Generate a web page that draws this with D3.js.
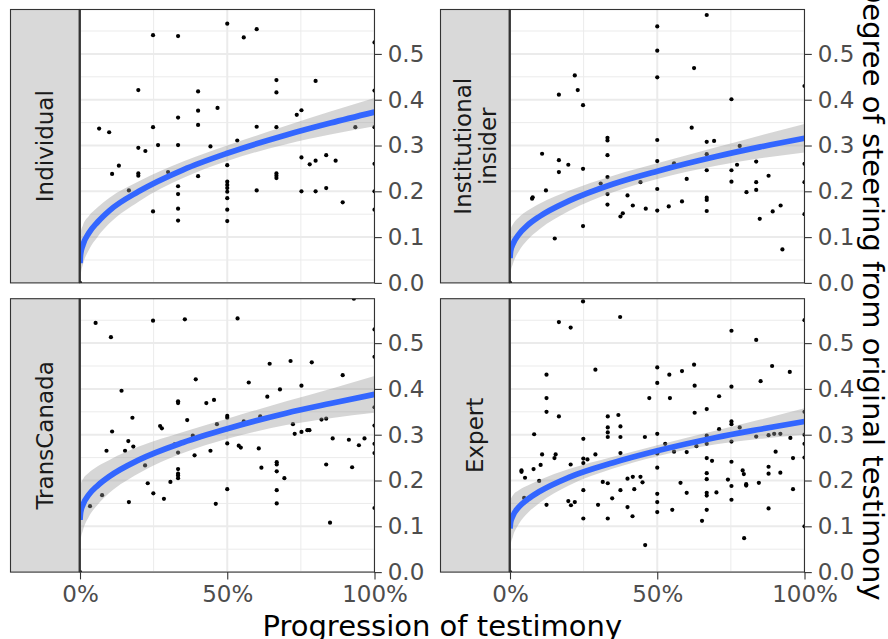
<!DOCTYPE html>
<html><head><meta charset="utf-8">
<script src="https://cdn.jsdelivr.net/npm/d3@7"></script>
<style>body{margin:0;background:#fff}svg{display:block}</style>
</head><body><svg id="chart" width="888" height="639"></svg>
<script>
// ---------- data ----------
const facetLabels = [["Individual"], ["Institutional", "insider"], ["TransCanada"], ["Expert"]];
const xTicks = [0, 0.5, 1];
const xTickLabels = ["0%", "50%", "100%"];
const yTicks = [0, 0.1, 0.2, 0.3, 0.4, 0.5];
const yTickLabels = ["0.0", "0.1", "0.2", "0.3", "0.4", "0.5"];
const xTitle = "Progression of testimony";
const yTitle = "Degree of steering from original testimony";

const individualPoints = [[0.248,0.541],[0.333,0.539],[0.5,0.566],[0.556,0.536],[0.6,0.554],[0.198,0.421],[0.401,0.418],[0.667,0.443],[0.667,0.416],[0.8,0.441],[0.467,0.382],[0.401,0.376],[0.333,0.361],[0.401,0.345],[0.736,0.367],[0.752,0.377],[0.065,0.337],[0.099,0.329],[0.248,0.340],[0.6,0.341],[0.667,0.340],[0.935,0.340],[0.198,0.295],[0.222,0.288],[0.265,0.301],[0.333,0.301],[0.443,0.298],[0.534,0.311],[0.132,0.256],[0.109,0.238],[0.198,0.239],[0.198,0.234],[0.299,0.242],[0.401,0.233],[0.5,0.257],[0.752,0.274],[0.78,0.259],[0.8,0.267],[0.836,0.279],[0.868,0.267],[0.667,0.239],[0.667,0.234],[0.667,0.229],[0.166,0.202],[0.166,0.187],[0.333,0.211],[0.333,0.194],[0.333,0.162],[0.333,0.136],[0.248,0.156],[0.5,0.221],[0.5,0.214],[0.5,0.207],[0.5,0.199],[0.5,0.185],[0.5,0.160],[0.5,0.135],[0.6,0.202],[0.752,0.200],[0.8,0.200],[0.836,0.207],[0.892,0.176],[1,0.525],[1,0.42],[1,0.34],[1,0.26],[1,0.20],[1,0.16],[0,0]];

const insiderPoints = [[0.668,0.585],[0.5,0.560],[0.5,0.507],[0.5,0.449],[0.625,0.469],[0.22,0.453],[0.23,0.421],[0.166,0.411],[0.248,0.388],[0.752,0.401],[0.617,0.339],[0.331,0.317],[0.331,0.311],[0.5,0.312],[0.668,0.308],[0.693,0.310],[0.78,0.299],[0.109,0.282],[0.331,0.279],[0.166,0.268],[0.166,0.242],[0.198,0.258],[0.248,0.249],[0.5,0.266],[0.557,0.261],[0.668,0.281],[0.668,0.246],[0.836,0.265],[0.752,0.246],[0.771,0.258],[0.878,0.234],[0.331,0.231],[0.308,0.217],[0.331,0.194],[0.443,0.220],[0.6,0.227],[0.752,0.221],[0.836,0.220],[0.836,0.203],[0.803,0.198],[0.5,0.205],[0.075,0.184],[0.077,0.187],[0.122,0.202],[0.399,0.191],[0.331,0.171],[0.417,0.169],[0.461,0.162],[0.5,0.158],[0.539,0.167],[0.584,0.178],[0.668,0.186],[0.668,0.181],[0.668,0.157],[0.383,0.152],[0.375,0.145],[0.892,0.156],[0.919,0.169],[0.848,0.140],[0.248,0.124],[0.152,0.097],[0.925,0.073],[1,0.43],[1,0.26],[1,0.22],[1,0.15],[0,0]];

const transCanadaPoints = [[0.93,0.597],[0.053,0.544],[0.248,0.549],[0.356,0.552],[0.535,0.554],[0.105,0.513],[0.644,0.455],[0.715,0.461],[0.787,0.458],[0.892,0.430],[0.393,0.421],[0.573,0.414],[0.752,0.407],[0.679,0.399],[0.141,0.396],[0.636,0.383],[0.333,0.373],[0.333,0.369],[0.429,0.369],[0.455,0.376],[0.178,0.337],[0.364,0.332],[0.5,0.341],[0.5,0.337],[0.612,0.340],[0.465,0.323],[0.556,0.329],[0.723,0.323],[0.82,0.333],[0.836,0.335],[0.109,0.307],[0.272,0.319],[0.278,0.314],[0.383,0.298],[0.729,0.302],[0.752,0.306],[0.772,0.310],[0.779,0.310],[0.858,0.292],[0.913,0.289],[0.966,0.292],[0.947,0.277],[0.164,0.286],[0.181,0.274],[0.09,0.265],[0.153,0.265],[0.321,0.279],[0.333,0.261],[0.5,0.281],[0.539,0.276],[0.546,0.272],[0.607,0.270],[0.443,0.265],[0.389,0.255],[0.221,0.233],[0.333,0.225],[0.333,0.215],[0.333,0.211],[0.333,0.205],[0.616,0.228],[0.668,0.240],[0.668,0.235],[0.668,0.220],[0.694,0.205],[0.836,0.235],[0.924,0.229],[0.307,0.197],[0.23,0.194],[0.068,0.195],[0.075,0.168],[0.249,0.172],[0.285,0.160],[0.5,0.181],[0.668,0.179],[0.166,0.153],[0.461,0.149],[0.668,0.150],[0.034,0.144],[0.849,0.108],[1,0.53],[1,0.47],[1,0.36],[1,0.32],[1,0.28],[1,0.26],[1,0.14],[0,0]];

const expertPoints = [[0.248,0.591],[0.374,0.557],[0.166,0.546],[0.206,0.534],[0.752,0.527],[0.836,0.507],[0.5,0.447],[0.625,0.453],[0.89,0.450],[0.95,0.437],[0.584,0.439],[0.541,0.431],[0.29,0.442],[0.124,0.431],[0.5,0.413],[0.627,0.407],[0.851,0.417],[0.752,0.405],[0.473,0.380],[0.543,0.380],[0.71,0.384],[0.124,0.380],[0.124,0.350],[0.166,0.340],[0.332,0.340],[0.368,0.343],[0.627,0.348],[0.668,0.356],[0.752,0.329],[0.752,0.323],[0.78,0.316],[0.71,0.312],[0.332,0.316],[0.332,0.305],[0.332,0.295],[0.375,0.318],[0.375,0.295],[0.082,0.301],[0.249,0.291],[0.458,0.295],[0.5,0.302],[0.668,0.298],[0.668,0.280],[0.836,0.296],[0.878,0.299],[0.897,0.302],[0.918,0.302],[0.952,0.293],[0.752,0.285],[0.527,0.280],[0.633,0.275],[0.902,0.263],[0.557,0.263],[0.6,0.262],[0.5,0.259],[0.375,0.260],[0.29,0.257],[0.109,0.257],[0.155,0.257],[0.151,0.249],[0.249,0.248],[0.263,0.246],[0.249,0.238],[0.206,0.235],[0.104,0.234],[0.08,0.225],[0.039,0.222],[0.039,0.219],[0.051,0.206],[0.099,0.199],[0.668,0.249],[0.686,0.243],[0.752,0.241],[0.961,0.249],[0.5,0.228],[0.668,0.216],[0.79,0.222],[0.794,0.214],[0.878,0.230],[0.878,0.215],[0.918,0.217],[0.668,0.203],[0.74,0.202],[0.315,0.197],[0.332,0.194],[0.399,0.204],[0.417,0.208],[0.443,0.208],[0.45,0.196],[0.579,0.195],[0.752,0.188],[0.802,0.192],[0.802,0.189],[0.845,0.195],[0.249,0.179],[0.375,0.179],[0.422,0.181],[0.961,0.181],[0.5,0.171],[0.6,0.173],[0.668,0.173],[0.668,0.167],[0.701,0.174],[0.347,0.161],[0.048,0.162],[0.752,0.158],[0.198,0.155],[0.207,0.146],[0.22,0.153],[0.124,0.147],[0.299,0.147],[0.399,0.142],[0.878,0.139],[0.5,0.153],[0.5,0.131],[0.551,0.136],[0.668,0.136],[0.249,0.117],[0.332,0.117],[0.416,0.122],[0.652,0.112],[0.795,0.074],[0.459,0.059],[1,0.55],[1,0.35],[1,0.30],[1,0.28],[1,0.25],[1,0.10],[0,0]];

// smoother: x positions, fitted value, band lower/upper
const smoothX = [0, 0.002, 0.01, 0.03, 0.06, 0.1, 0.2, 0.35, 0.5, 0.7, 0.85, 1];
const individualFit   = [0.043,0.062,0.083,0.109,0.133,0.158,0.200,0.247,0.283,0.323,0.349,0.373];
const individualLow   = [0.000,0.015,0.040,0.072,0.101,0.130,0.178,0.229,0.266,0.303,0.324,0.342];
const individualHigh  = [0.093,0.109,0.126,0.146,0.165,0.186,0.222,0.265,0.300,0.343,0.374,0.404];
const insiderFit      = [0.054,0.069,0.085,0.106,0.126,0.145,0.179,0.216,0.244,0.276,0.297,0.316];
const insiderLow      = [0.004,0.022,0.042,0.069,0.094,0.117,0.157,0.198,0.227,0.256,0.272,0.285];
const insiderHigh     = [0.104,0.116,0.128,0.143,0.158,0.173,0.201,0.234,0.261,0.296,0.322,0.347];
const transCanadaFit  = [0.114,0.130,0.147,0.169,0.189,0.209,0.245,0.283,0.313,0.347,0.368,0.388];
const transCanadaLow  = [0.049,0.069,0.091,0.121,0.147,0.173,0.216,0.260,0.291,0.321,0.336,0.348];
const transCanadaHigh = [0.179,0.191,0.203,0.217,0.231,0.245,0.274,0.306,0.335,0.373,0.400,0.428];
const expertFit       = [0.095,0.108,0.123,0.142,0.159,0.176,0.207,0.239,0.265,0.294,0.312,0.329];
const expertLow       = [0.040,0.058,0.078,0.105,0.129,0.151,0.189,0.226,0.253,0.279,0.291,0.300];
const expertHigh      = [0.150,0.158,0.168,0.179,0.189,0.201,0.225,0.252,0.277,0.309,0.333,0.358];

// ---------- layout ----------
const svg = d3.select("#chart");
const FONT = "DejaVu Sans, sans-serif";
const panels = [
  {label: facetLabels[0], pts: individualPoints, fit: individualFit, lo: individualLow, hi: individualHigh, left: 80, top: 9.5, bottomRow: false},
  {label: facetLabels[1], pts: insiderPoints, fit: insiderFit, lo: insiderLow, hi: insiderHigh, left: 510, top: 9.5, bottomRow: false},
  {label: facetLabels[2], pts: transCanadaPoints, fit: transCanadaFit, lo: transCanadaLow, hi: transCanadaHigh, left: 80, top: 298.7, bottomRow: true},
  {label: facetLabels[3], pts: expertPoints, fit: expertFit, lo: expertLow, hi: expertHigh, left: 510, top: 298.7, bottomRow: true}
];
const PW = 294.5, PH = 273.4, STRIP = 69;
const yMax = 0.597;

panels.forEach((p, i) => {
  const x = d3.scaleLinear().domain([0, 1]).range([p.left, p.left + PW]);
  const y = d3.scaleLinear().domain([0, yMax]).range([p.top + PH, p.top]);
  const g = svg.append("g");

  g.append("clipPath").attr("id", "clip" + i)
    .append("rect").attr("x", p.left).attr("y", p.top).attr("width", PW).attr("height", PH);

  // grid
  const grid = g.append("g").attr("clip-path", `url(#clip${i})`);
  const yMinor = d3.range(0.05, yMax, 0.1);
  grid.selectAll(".ymin").data(yMinor).join("line")
    .attr("x1", p.left).attr("x2", p.left + PW).attr("y1", d => y(d)).attr("y2", d => y(d))
    .attr("stroke", "#EBEBEB").attr("stroke-width", 1);
  grid.selectAll(".xmin").data([0.25, 0.75]).join("line")
    .attr("y1", p.top).attr("y2", p.top + PH).attr("x1", d => x(d)).attr("x2", d => x(d))
    .attr("stroke", "#EBEBEB").attr("stroke-width", 1);
  grid.selectAll(".ymaj").data(yTicks).join("line")
    .attr("x1", p.left).attr("x2", p.left + PW).attr("y1", d => y(d)).attr("y2", d => y(d))
    .attr("stroke", "#EBEBEB").attr("stroke-width", 2);
  grid.selectAll(".xmaj").data(xTicks).join("line")
    .attr("y1", p.top).attr("y2", p.top + PH).attr("x1", d => x(d)).attr("x2", d => x(d))
    .attr("stroke", "#EBEBEB").attr("stroke-width", 2);

  const data = g.append("g").attr("clip-path", `url(#clip${i})`);
  // points
  data.selectAll("circle").data(p.pts).join("circle")
    .attr("cx", d => x(d[0])).attr("cy", d => y(d[1])).attr("r", 2.1).attr("fill", "#000");
  // ribbon
  const band = smoothX.map((sx, k) => ({x: sx, lo: p.lo[k], hi: p.hi[k], f: p.fit[k]}));
  data.append("path").datum(band)
    .attr("d", d3.area().x(d => x(d.x)).y0(d => y(d.lo)).y1(d => y(d.hi)).curve(d3.curveMonotoneX))
    .attr("fill", "#999999").attr("fill-opacity", 0.4);
  data.append("path").datum(band)
    .attr("d", d3.line().x(d => x(d.x)).y(d => y(d.f)).curve(d3.curveMonotoneX))
    .attr("fill", "none").attr("stroke", "#3366FF").attr("stroke-width", 5.7);

  // panel border
  g.append("rect").attr("x", p.left).attr("y", p.top).attr("width", PW).attr("height", PH)
    .attr("fill", "none").attr("stroke", "#333333").attr("stroke-width", 1.1);

  // strip
  g.append("rect").attr("x", p.left - STRIP - 0.5).attr("y", p.top).attr("width", STRIP).attr("height", PH)
    .attr("fill", "#D9D9D9").attr("stroke", "#333333").attr("stroke-width", 1.1);
  g.append("line").attr("x1", p.left - 0.3).attr("x2", p.left - 0.3).attr("y1", p.top).attr("y2", p.top + PH)
    .attr("stroke", "#333333").attr("stroke-width", 2.2);
  const cx = p.left - STRIP / 2 - 0.5, cy = p.top + PH / 2;
  const n = p.label.length, lh = 25;
  p.label.forEach((t, k) => {
    const off = (k - (n - 1) / 2) * lh;
    g.append("text")
      .attr("transform", `translate(${cx + off + 8.4},${cy}) rotate(-90)`)
      .attr("text-anchor", "middle").attr("font-family", FONT).attr("font-size", 23)
      .attr("fill", "#1A1A1A").text(t);
  });

  // y axis on right
  const ya = g.append("g").attr("transform", `translate(${p.left + PW},0)`)
    .call(d3.axisRight(y).tickValues(yTicks).tickFormat((d, k) => yTickLabels[k]).tickSize(7.3).tickPadding(5.9));
  ya.select(".domain").remove();
  ya.selectAll("line").attr("stroke", "#333333").attr("stroke-width", 1.1);
  ya.selectAll("text").attr("font-family", FONT).attr("font-size", 23).attr("fill", "#4D4D4D");

  if (p.bottomRow) {
    const xa = g.append("g").attr("transform", `translate(0,${p.top + PH})`)
      .call(d3.axisBottom(x).tickValues(xTicks).tickFormat((d, k) => xTickLabels[k]).tickSize(7.3).tickPadding(5.9));
    xa.select(".domain").remove();
    xa.selectAll("line").attr("stroke", "#333333").attr("stroke-width", 1.1);
    xa.selectAll("text").attr("font-family", FONT).attr("font-size", 23).attr("fill", "#4D4D4D");
  }
});

// axis titles (the reference clips them at the canvas edges too)
svg.append("text").attr("x", (80 + 510 + PW) / 2).attr("y", 635.5)
  .attr("text-anchor", "middle").attr("font-family", FONT).attr("font-size", 29).attr("fill", "#000")
  .text(xTitle);
svg.append("text").attr("transform", `translate(863,${(9.5 + 298.7 + PH) / 2}) rotate(90)`)
  .attr("text-anchor", "middle").attr("font-family", FONT).attr("font-size", 29).attr("fill", "#000")
  .text(yTitle);
</script></body></html>
